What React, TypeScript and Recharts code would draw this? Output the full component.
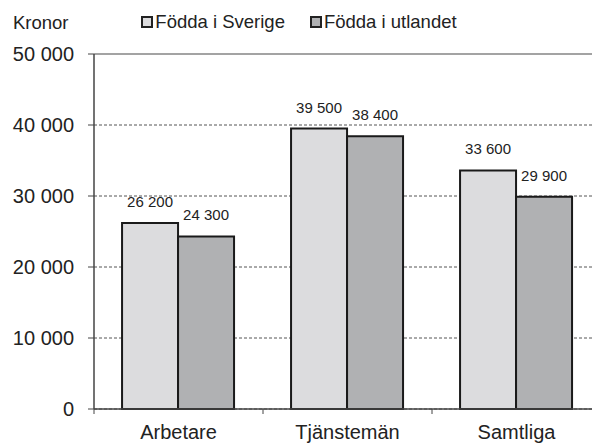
import {
  Bar,
  BarChart,
  CartesianGrid,
  LabelList,
  Legend,
  ReferenceLine,
  XAxis,
  YAxis,
} from "recharts";

const categories = ["Arbetare", "Tjänstemän", "Samtliga"];
const foddaSverige = [26200, 39500, 33600];
const foddaUtlandet = [24300, 38400, 29900];
const yTicks = [0, 10000, 20000, 30000, 40000, 50000];

const SERIES = [
  { key: "sverige", name: "Födda i Sverige", fill: "#dcdcde" },
  { key: "utlandet", name: "Födda i utlandet", fill: "#b0b1b3" },
];

const data = categories.map((name, i) => ({
  name,
  sverige: foddaSverige[i],
  utlandet: foddaUtlandet[i],
}));

const FONT = "Arial, 'Liberation Sans', sans-serif";
const INK = "#222";
const X_TICK_SIZE = 5;
const X_TICK_MARGIN = 11;

const fmt = (v: number) =>
  String(v).replace(/\B(?=(\d{3})+(?!\d))/g, " ");

function CategoryTick({ x, y, payload, index, visibleTicksCount }: any) {
  const half = payload.offset ?? 84.5;
  const axisY = y - X_TICK_SIZE - X_TICK_MARGIN;
  const last = index === visibleTicksCount - 1;
  return (
    <g>
      <line x1={x - half} x2={x - half} y1={axisY} y2={axisY + X_TICK_SIZE} stroke="#444" />
      {last && (
        <line x1={x + half} x2={x + half} y1={axisY} y2={axisY + X_TICK_SIZE} stroke="#444" />
      )}
      <text x={x} y={y} dy="0.71em" textAnchor="middle" fill={INK} fontSize={20} fontFamily={FONT}>
        {payload.value}
      </text>
    </g>
  );
}

function LegendContent() {
  return (
    <div
      style={{
        display: "flex",
        justifyContent: "center",
        height: 30,
        paddingLeft: 6,
        fontFamily: FONT,
        fontSize: 18.5,
        color: INK,
      }}
    >
      {SERIES.map((s, i) => (
        <div
          key={s.key}
          style={{ display: "flex", alignItems: "center", height: 21, marginLeft: i ? 25 : 0 }}
        >
          <span
            style={{
              display: "inline-block",
              width: 8,
              height: 8,
              border: `2px solid ${INK}`,
              background: s.fill,
              marginRight: 2,
            }}
          />
          <span>{s.name}</span>
        </div>
      ))}
    </div>
  );
}

function KronorLabel({ viewBox }: any) {
  return (
    <text x={13} y={viewBox.y - 25} fill={INK} fontSize={18.5} fontFamily={FONT}>
      Kronor
    </text>
  );
}

export default function App() {
  return (
    <div
      style={{
        position: "fixed",
        left: 0,
        top: 0,
        width: 592,
        height: 445,
        overflow: "hidden",
        background: "#fff",
      }}
    >
      <BarChart
        width={610}
        height={445}
        data={data}
        margin={{ top: 24, right: 9, left: 0, bottom: 0 }}
        barCategoryGap="16.6%"
        barGap={0}
      >
        <CartesianGrid vertical={false} stroke="#555" strokeDasharray="3 2" />
        <ReferenceLine y={50000} stroke="#a3a3a3" strokeWidth={2} />
        <XAxis
          dataKey="name"
          height={36}
          tickLine={false}
          tickSize={X_TICK_SIZE}
          tickMargin={X_TICK_MARGIN}
          axisLine={{ stroke: "#444", strokeWidth: 1.5 }}
          tick={<CategoryTick />}
          interval={0}
        />
        <YAxis
          width={94}
          domain={[0, 50000]}
          ticks={yTicks}
          tickFormatter={fmt}
          tickSize={6}
          tickMargin={14}
          tickLine={{ stroke: "#444" }}
          axisLine={{ stroke: "#444", strokeWidth: 1.5 }}
          tick={{ fill: INK, fontSize: 20, fontFamily: FONT }}
          label={<KronorLabel />}
        />
        <Legend
          verticalAlign="top"
          content={<LegendContent />}
          wrapperStyle={{ top: 11, left: 0, width: 592 }}
        />
        {SERIES.map((s) => (
          <Bar
            key={s.key}
            dataKey={s.key}
            name={s.name}
            fill={s.fill}
            stroke="#1a1a1a"
            strokeWidth={2}
            isAnimationActive={false}
          >
            <LabelList
              dataKey={s.key}
              position="top"
              offset={16}
              formatter={(v: any) => fmt(Number(v))}
              fill={INK}
              fontSize={15}
              fontFamily={FONT}
            />
          </Bar>
        ))}
      </BarChart>
    </div>
  );
}
